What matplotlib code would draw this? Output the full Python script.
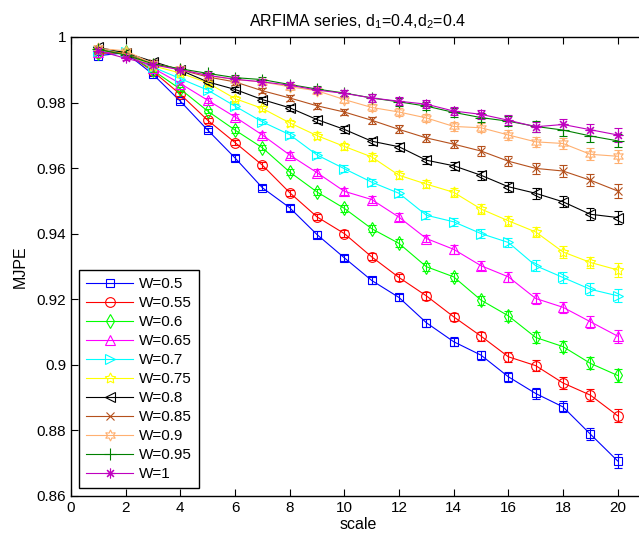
import matplotlib
matplotlib.use("Agg")
import matplotlib.pyplot as plt
from matplotlib.lines import Line2D
import numpy as np

plt.rcParams['font.family'] = ['Liberation Sans', 'DejaVu Sans']
plt.rcParams['mathtext.fontset'] = 'custom'
plt.rcParams['mathtext.rm'] = 'Liberation Sans'

scale = list(range(1, 21))

mjpe_w050 = [0.9943, 0.9952, 0.9886, 0.9804, 0.9716, 0.9631, 0.9540, 0.9479, 0.9397, 0.9326,
             0.9257, 0.9205, 0.9128, 0.9070, 0.9029, 0.8963, 0.8912, 0.8871, 0.8788, 0.8706]
mjpe_w055 = [0.9950, 0.9952, 0.9895, 0.9825, 0.9746, 0.9678, 0.9609, 0.9525, 0.9451, 0.9400,
             0.9329, 0.9266, 0.9210, 0.9146, 0.9087, 0.9024, 0.8997, 0.8944, 0.8907, 0.8844]
mjpe_w060 = [0.9952, 0.9953, 0.9898, 0.9841, 0.9774, 0.9716, 0.9662, 0.9588, 0.9527, 0.9477,
             0.9415, 0.9370, 0.9299, 0.9268, 0.9197, 0.9149, 0.9083, 0.9055, 0.9004, 0.8967]
mjpe_w065 = [0.9955, 0.9950, 0.9905, 0.9858, 0.9807, 0.9756, 0.9701, 0.9640, 0.9586, 0.9529,
             0.9504, 0.9450, 0.9385, 0.9352, 0.9302, 0.9268, 0.9202, 0.9175, 0.9131, 0.9087]
mjpe_w070 = [0.9958, 0.9955, 0.9908, 0.9873, 0.9838, 0.9789, 0.9741, 0.9702, 0.9640, 0.9598,
             0.9557, 0.9523, 0.9456, 0.9436, 0.9400, 0.9373, 0.9302, 0.9266, 0.9230, 0.9210]
mjpe_w075 = [0.9960, 0.9950, 0.9912, 0.9890, 0.9860, 0.9812, 0.9782, 0.9738, 0.9699, 0.9666,
             0.9634, 0.9578, 0.9551, 0.9526, 0.9475, 0.9439, 0.9405, 0.9344, 0.9312, 0.9289]
mjpe_w080 = [0.9968, 0.9952, 0.9925, 0.9899, 0.9863, 0.9840, 0.9809, 0.9784, 0.9748, 0.9718,
             0.9682, 0.9665, 0.9624, 0.9607, 0.9578, 0.9543, 0.9523, 0.9497, 0.9459, 0.9449]
mjpe_w085 = [0.9962, 0.9948, 0.9920, 0.9900, 0.9878, 0.9863, 0.9836, 0.9814, 0.9790, 0.9771,
             0.9746, 0.9718, 0.9692, 0.9673, 0.9652, 0.9621, 0.9599, 0.9591, 0.9563, 0.9530]
mjpe_w090 = [0.9965, 0.9958, 0.9918, 0.9902, 0.9882, 0.9870, 0.9863, 0.9848, 0.9836, 0.9809,
             0.9785, 0.9771, 0.9753, 0.9727, 0.9723, 0.9701, 0.9680, 0.9675, 0.9642, 0.9636]
mjpe_w095 = [0.9962, 0.9945, 0.9918, 0.9903, 0.9889, 0.9876, 0.9870, 0.9855, 0.9841, 0.9829,
             0.9814, 0.9802, 0.9789, 0.9770, 0.9754, 0.9743, 0.9727, 0.9716, 0.9698, 0.9683]
mjpe_w100 = [0.9958, 0.9935, 0.9915, 0.9900, 0.9883, 0.9871, 0.9863, 0.9853, 0.9838, 0.9828,
             0.9814, 0.9804, 0.9795, 0.9774, 0.9764, 0.9746, 0.9726, 0.9733, 0.9717, 0.9701]

# standard error of the estimate at each scale
std_err = [0.0003, 0.0004, 0.0005, 0.0006, 0.0007, 0.0008, 0.0008, 0.0009, 0.0010, 0.0010,
           0.0011, 0.0012, 0.0012, 0.0013, 0.0014, 0.0015, 0.0016, 0.0017, 0.0018, 0.0020]

labels = ['W=0.5', 'W=0.55', 'W=0.6', 'W=0.65', 'W=0.7', 'W=0.75',
          'W=0.8', 'W=0.85', 'W=0.9', 'W=0.95', 'W=1']
series = [mjpe_w050, mjpe_w055, mjpe_w060, mjpe_w065, mjpe_w070, mjpe_w075,
          mjpe_w080, mjpe_w085, mjpe_w090, mjpe_w095, mjpe_w100]

colors = ['#0000ff', '#ff0000', '#00ff00', '#ff00ff', '#00ffff', '#ffff00',
          '#000000', '#b5501c', '#ffb070', '#008000', '#bf00bf']
markers = ['s', 'o', 'd', '^', '>', (5, 1, 0), '<', 'x', (6, 1, 0), '+', (8, 2, 0)]
msizes = [6, 7, 7, 7, 7, 8, 7, 6, 8, 8, 7]

fig = plt.figure(figsize=(6.39, 5.39), dpi=100)
ax = fig.add_axes([71 / 639, (539 - 495.7) / 539, 574 / 639, (495.7 - 37) / 539])

handles = []
for y, lab, c, m, ms in zip(series, labels, colors, markers, msizes):
    ax.errorbar(scale, y, yerr=std_err, color=c, marker=m, markersize=ms,
                markerfacecolor='none', markeredgecolor=c, markeredgewidth=0.8,
                linewidth=0.8, elinewidth=0.8, capsize=3, capthick=0.8)
    handles.append(Line2D([], [], color=c, marker=m, markersize=ms,
                          markerfacecolor='none', markeredgecolor=c,
                          markeredgewidth=0.8, linewidth=0.8, label=lab))

ax.set_xlim(0, 21)
ax.set_ylim(0.86, 1.0)
ax.set_xticks(range(0, 21, 2))
ax.set_yticks(np.arange(0.86, 1.0001, 0.02))
ax.set_yticklabels(['0.86', '0.88', '0.9', '0.92', '0.94', '0.96', '0.98', '1'])
ax.tick_params(direction='in', top=True, right=False, labelsize=11, length=5, width=0.8)
ax.spines['right'].set_visible(False)
for sp in ax.spines.values():
    sp.set_linewidth(1.0)

ax.set_title('ARFIMA series, d$_1$=0.4,d$_2$=0.4', fontsize=11.5, pad=8)
ax.set_xlabel('scale', fontsize=11.5, labelpad=2)
ax.set_ylabel('MJPE', fontsize=11.5, labelpad=6)

leg = ax.legend(handles=handles, loc='lower left', bbox_to_anchor=(0.014, 0.016),
                borderaxespad=0, fancybox=False, framealpha=1, edgecolor='black',
                fontsize=11, handlelength=3.1, handletextpad=0.4, labelspacing=0.33,
                borderpad=0.45)
leg.get_frame().set_linewidth(1.0)

fig.savefig('out.png', dpi=100)
